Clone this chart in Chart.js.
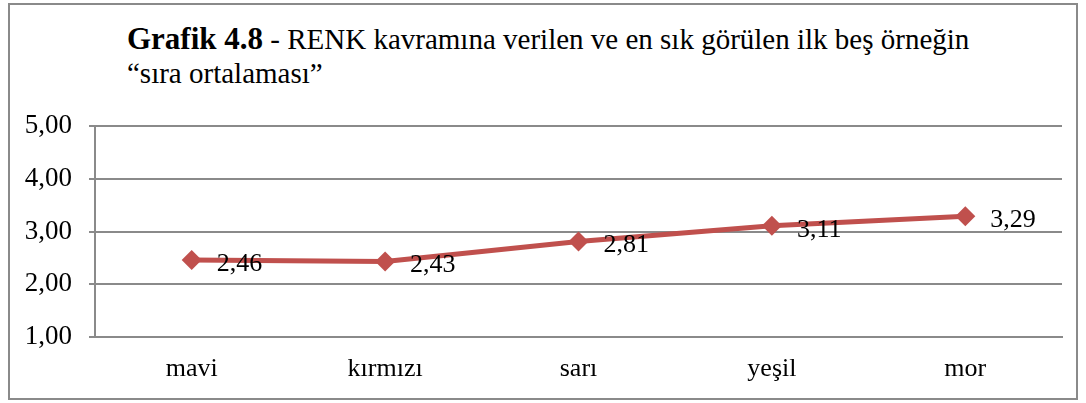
<!DOCTYPE html>
<html>
<head>
<meta charset="utf-8">
<script src="https://cdn.jsdelivr.net/npm/chart.js@4"></script>
<style>
    body { margin: 0; background: #fff; }
    #frame {
        position: absolute; left: 8px; top: 3px; width: 1066px; height: 393px;
        border: 2px solid #8a8a8a;
    }
    #title {
        position: absolute; left: 127px; top: 22px;
        font-family: "Liberation Serif", "Times New Roman", serif;
        font-size: 29px; line-height: 34px; color: #000; white-space: nowrap;
    }
    #title b { font-size: 31px; }
    #chartWrap { position: absolute; left: 0; top: 0; width: 1086px; height: 403px; }
</style>
</head>
<body>
<div id="frame"></div>
<div id="title"><b>Grafik 4.8</b> - RENK kavramına verilen ve en sık görülen ilk beş örneğin<br>“sıra ortalaması”</div>
<div id="chartWrap"><canvas id="renkChart" width="1086" height="403"></canvas></div>
<script>
var categories = ['mavi', 'kırmızı', 'sarı', 'yeşil', 'mor'];
var siraOrtalamasi = [2.46, 2.43, 2.81, 3.11, 3.29];
var yTickValues = [1, 2, 3, 4, 5];
var yTickLabels = ['1,00', '2,00', '3,00', '4,00', '5,00'];

var serif = 'Liberation Serif';

// value labels to the right of each point
var valueLabels = {
    id: 'valueLabels',
    afterDatasetsDraw: function (chart) {
        var ctx = chart.ctx;
        var meta = chart.getDatasetMeta(0);
        ctx.save();
        ctx.font = '26px "' + serif + '"';
        ctx.fillStyle = '#000';
        ctx.textAlign = 'left';
        ctx.textBaseline = 'middle';
        meta.data.forEach(function (pt, i) {
            var txt = siraOrtalamasi[i].toFixed(2).replace('.', ',');
            ctx.fillText(txt, pt.x + 25, pt.y + 4);
        });
        ctx.restore();
    }
};

var ctx = document.getElementById('renkChart').getContext('2d');
var renkChart = new Chart(ctx, {
    type: 'line',
    data: {
        labels: categories,
        datasets: [{
            label: 'sıra ortalaması',
            data: siraOrtalamasi,
            borderColor: '#c0504d',
            backgroundColor: '#c0504d',
            borderWidth: 5,
            pointStyle: 'rectRot',
            pointRadius: 10,
            pointHoverRadius: 10,
            pointBorderWidth: 0,
            tension: 0
        }]
    },
    options: {
        responsive: false,
        animation: false,
        layout: { padding: { left: 0, right: 24, top: 126, bottom: 0 } },
        plugins: {
            legend: { display: false },
            tooltip: { enabled: false }
        },
        scales: {
            x: {
                offset: true,
                afterFit: function (axis) { axis.height = 66; },
                grid: { display: false, drawTicks: false },
                border: { display: true, color: '#8a8a8a', width: 2 },
                ticks: {
                    color: '#000',
                    padding: 17,
                    font: { family: serif, size: 26 }
                }
            },
            y: {
                min: 1,
                max: 5,
                afterFit: function (axis) { axis.width = 95; },
                afterBuildTicks: function (axis) {
                    axis.ticks = yTickValues.map(function (v) { return { value: v }; });
                },
                grid: { color: '#8a8a8a', lineWidth: 2, tickLength: 6 },
                border: { display: true, color: '#8a8a8a', width: 2 },
                ticks: {
                    color: '#000',
                    padding: 17,
                    font: { family: serif, size: 27 },
                    callback: function (v) { return yTickLabels[yTickValues.indexOf(v)]; }
                }
            }
        }
    },
    plugins: [valueLabels]
});
</script>
</body>
</html>
